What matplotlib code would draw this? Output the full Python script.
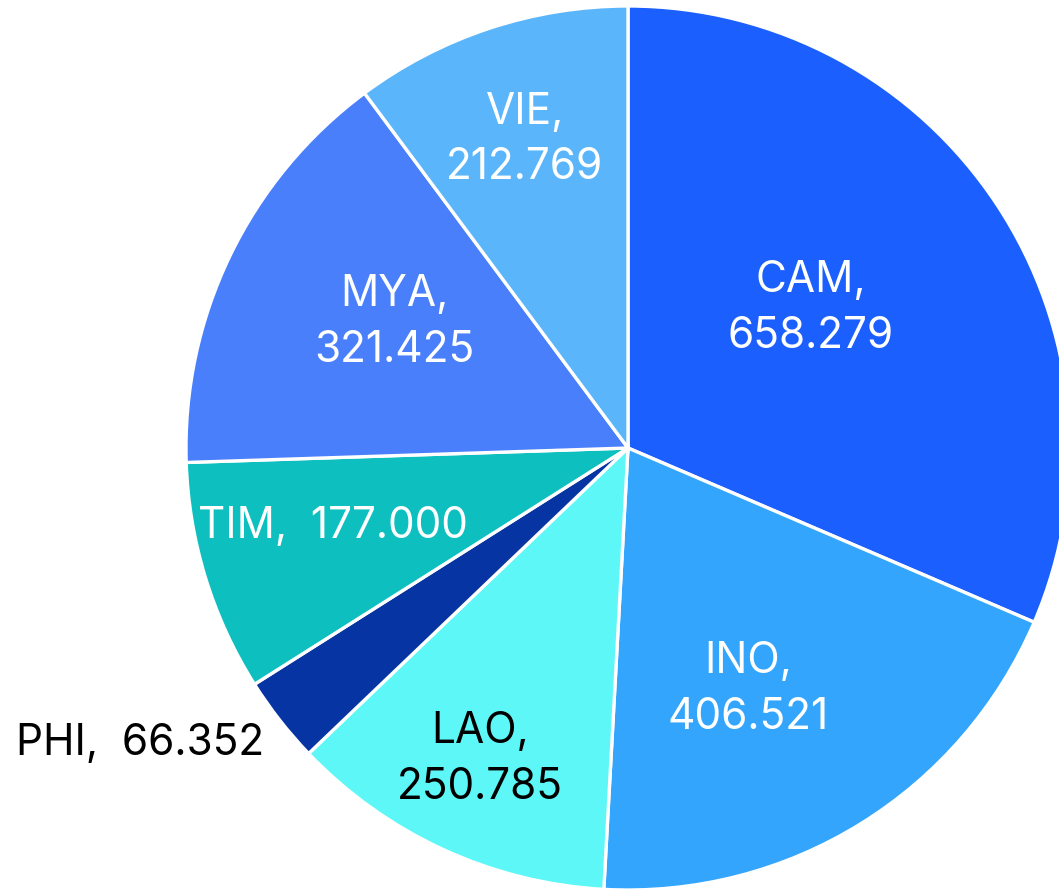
import numpy as np
import matplotlib.pyplot as plt

# Chart data
countries = ["CAM", "INO", "LAO", "PHI", "TIM", "MYA", "VIE"]
values = [658.279, 406.521, 250.785, 66.352, 177.000, 321.425, 212.769]

# Styling (label placement as fraction of radius + angle nudge in degrees)
colors = ["#1c5fff", "#33a5fc", "#5df7f7", "#0635a3", "#0ebfbf", "#4a7ffc", "#5ab5fb"]
label_dist = [0.52, 0.61, 0.78, 1.29, 0.69, 0.60, 0.735]
label_nudge = [4.0, -5.4, -0.7, -6.8, -2.2, -2.5, 0.2]
label_color = ["white", "white", "black", "black", "white", "white", "white"]
one_line = {"PHI", "TIM"}

W, H = 1059, 889
CENTER = (628, H - 448)
RADIUS = 442

plt.rcParams["font.family"] = ["Inter", "DejaVu Sans"]

fig = plt.figure(figsize=(W / 100, H / 100), dpi=100)
ax = fig.add_axes([0, 0, 1, 1])

wedges, _ = ax.pie(
    values,
    colors=colors,
    startangle=90,
    counterclock=False,
    center=CENTER,
    radius=RADIUS,
    wedgeprops={"edgecolor": "white", "linewidth": 2.4},
)

for i, w in enumerate(wedges):
    mid = np.deg2rad((w.theta1 + w.theta2) / 2 + label_nudge[i])
    x = CENTER[0] + label_dist[i] * RADIUS * np.cos(mid)
    y = CENTER[1] + label_dist[i] * RADIUS * np.sin(mid)
    sep = "  " if countries[i] in one_line else "\n"
    ax.text(x, y, f"{countries[i]},{sep}{values[i]:.3f}", ha="center", va="center",
            color=label_color[i], fontsize=30.5, linespacing=1.45)

ax.set_xlim(0, W)
ax.set_ylim(0, H)
ax.set_aspect("equal")
ax.axis("off")

fig.savefig("out.png", dpi=100)
